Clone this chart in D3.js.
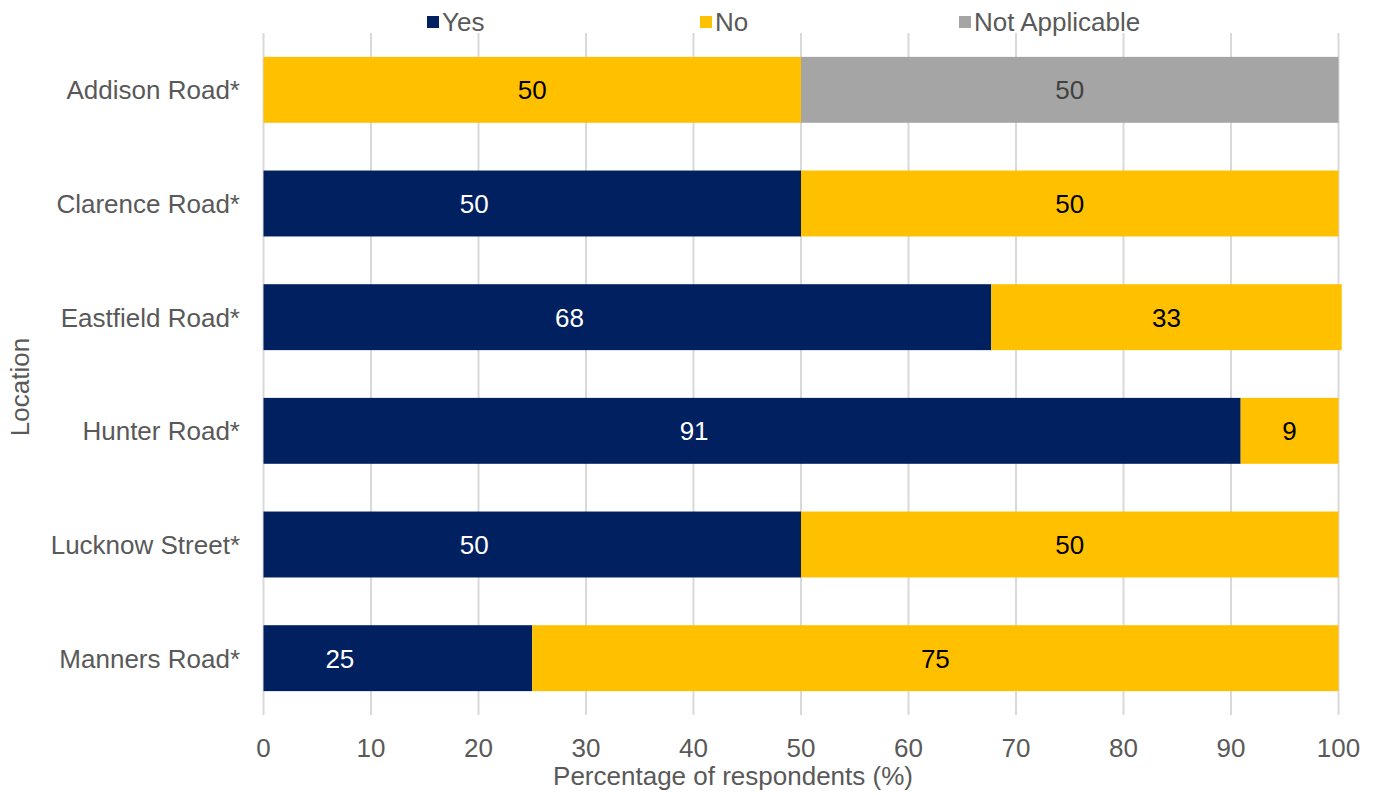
<!DOCTYPE html>
<html>
<head>
<meta charset="utf-8">
<script src="https://cdn.jsdelivr.net/npm/d3@7"></script>
<style>
  body { margin: 0; background: #fff; }
  text { font-family: "Liberation Sans", Arial, sans-serif; }
</style>
</head>
<body>
<div class="chart"></div>
<script>
const locations = ["Addison Road*", "Clarence Road*", "Eastfield Road*", "Hunter Road*", "Lucknow Street*", "Manners Road*"];
const yesValues = [0, 50, 67.7, 90.9, 50, 25];
const noValues = [50, 50, 32.6, 9.1, 50, 75];
const naValues = [50, 0, 0, 0, 0, 0];
const seriesNames = ["Yes", "No", "Not Applicable"];
const seriesColors = ["#002060", "#FFC000", "#A5A5A5"];
const labelColors = ["#ffffff", "#000000", "#404040"];
const xTicks = [0, 10, 20, 30, 40, 50, 60, 70, 80, 90, 100];

const svgWidth = 1378, svgHeight = 795;
const plotLeft = 263.5, plotRight = 1338.5, plotTop = 33, plotBottom = 715;
const textGrey = "#595959";
const fontSize = "26px";
// the Yes labels sit left of their bar centre in the original
const labelShift = [-58, 0, 0];

var svg = d3.select(".chart").append("svg")
    .attr("width", svgWidth)
    .attr("height", svgHeight);

var xScale = d3.scaleLinear().domain([0, 100]).range([plotLeft, plotRight]);
var yScale = d3.scaleBand().domain(locations).range([plotTop, plotBottom]).paddingInner(0.42).paddingOuter(0.21);

// gridlines
svg.append("g").selectAll("line")
    .data(xTicks).enter().append("line")
    .attr("x1", d => xScale(d)).attr("x2", d => xScale(d))
    .attr("y1", plotTop).attr("y2", plotBottom)
    .attr("stroke", "#d9d9d9")
    .attr("stroke-width", 2);

// stacked data
var rows = locations.map(function (loc, i) {
    return { loc: loc, Yes: yesValues[i], No: noValues[i], "Not Applicable": naValues[i] };
});
var stacked = d3.stack().keys(seriesNames)(rows);

stacked.forEach(function (layer, si) {
    var g = svg.append("g");
    var segs = layer.filter(d => d[1] - d[0] > 0);
    g.selectAll("rect").data(segs).enter().append("rect")
        .attr("x", d => xScale(d[0]))
        .attr("y", d => yScale(d.data.loc))
        .attr("width", d => xScale(d[1]) - xScale(d[0]))
        .attr("height", yScale.bandwidth())
        .attr("fill", seriesColors[si]);
    g.selectAll("text").data(segs).enter().append("text")
        .text(d => Math.round(d[1] - d[0]))
        .attr("x", d => (xScale(d[0]) + xScale(d[1])) / 2 + labelShift[si])
        .attr("y", d => yScale(d.data.loc) + yScale.bandwidth() / 2)
        .attr("dy", "0.36em")
        .style("text-anchor", "middle")
        .style("font-size", fontSize)
        .style("fill", labelColors[si]);
});

// x tick labels
svg.append("g").selectAll("text")
    .data(xTicks).enter().append("text")
    .text(d => d)
    .attr("x", d => xScale(d))
    .attr("y", 748)
    .attr("dy", "0.36em")
    .style("text-anchor", "middle")
    .style("font-size", fontSize)
    .style("fill", textGrey);

// y category labels
svg.append("g").selectAll("text")
    .data(locations).enter().append("text")
    .text(d => d)
    .attr("x", 240)
    .attr("y", d => yScale(d) + yScale.bandwidth() / 2)
    .attr("dy", "0.36em")
    .style("text-anchor", "end")
    .style("font-size", fontSize)
    .style("fill", textGrey);

// axis titles
svg.append("text")
    .text("Percentage of respondents (%)")
    .attr("x", 733).attr("y", 776)
    .attr("dy", "0.36em")
    .style("text-anchor", "middle")
    .style("font-size", fontSize)
    .style("fill", textGrey);

svg.append("text")
    .text("Location")
    .attr("transform", "translate(20,387) rotate(-90)")
    .attr("dy", "0.36em")
    .style("text-anchor", "middle")
    .style("font-size", fontSize)
    .style("fill", textGrey);

// legend
var legendX = [427, 700, 959];
var legend = svg.append("g").selectAll("g")
    .data(seriesNames).enter().append("g")
    .attr("transform", (d, i) => "translate(" + legendX[i] + ",22)");
legend.append("rect")
    .attr("x", 0).attr("y", -6)
    .attr("width", 12).attr("height", 12)
    .attr("fill", (d, i) => seriesColors[i]);
legend.append("text")
    .text(d => d)
    .attr("x", 15)
    .attr("dy", "0.36em")
    .style("font-size", fontSize)
    .style("fill", textGrey);
</script>
</body>
</html>
